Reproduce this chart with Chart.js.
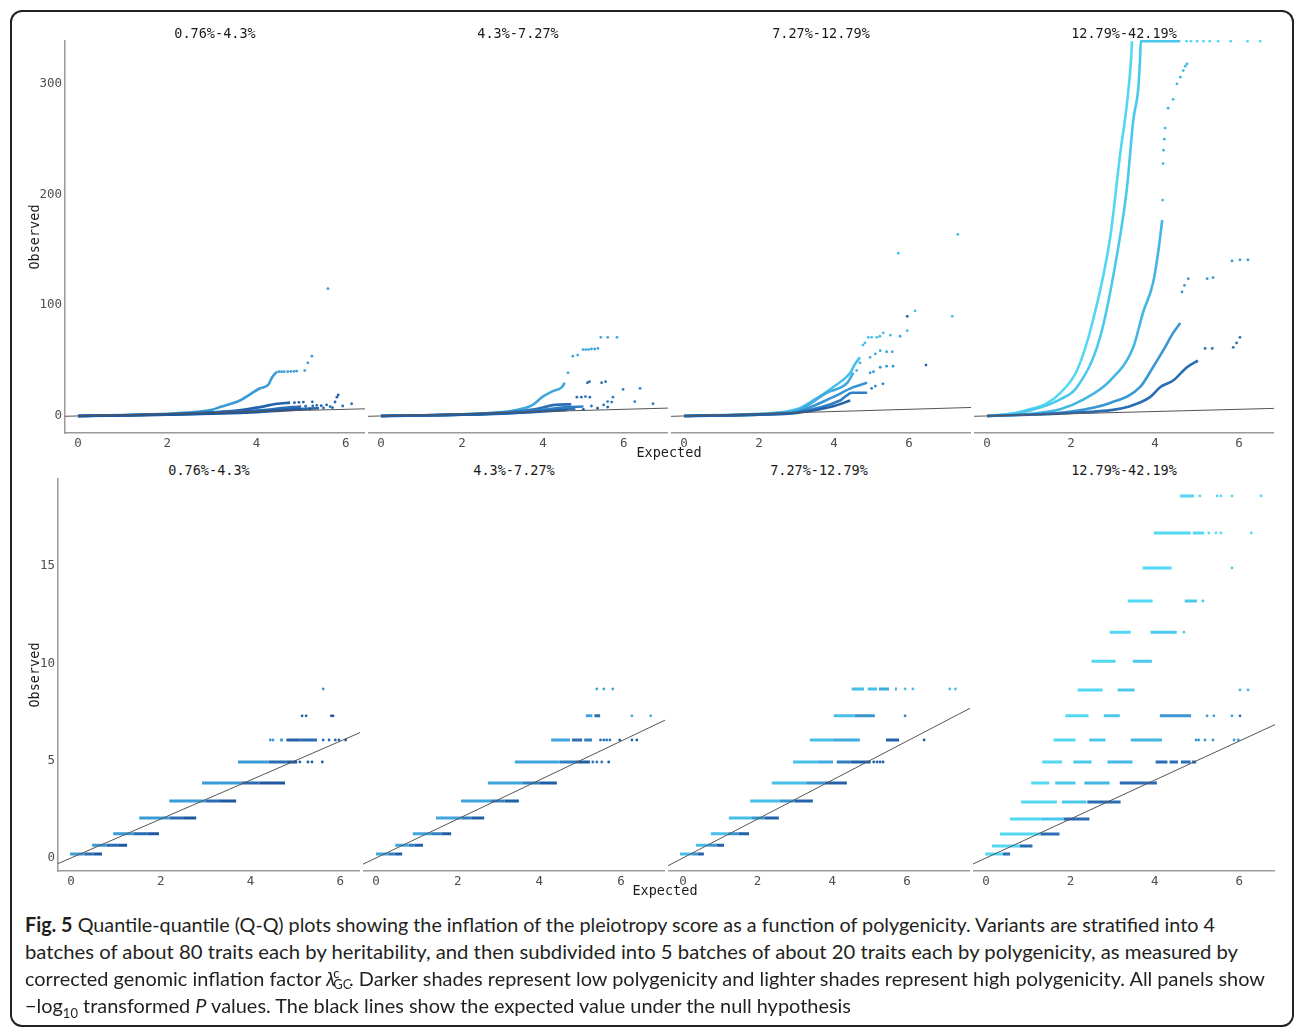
<!DOCTYPE html>
<html>
<head>
<meta charset="utf-8">
<script src="https://cdn.jsdelivr.net/npm/chart.js@4.4.0/dist/chart.umd.min.js"></script>
<style>
  body { margin: 0; background: #fff; width: 1296px; height: 1029px; position: relative; overflow: hidden; }
  #frame { position: absolute; left: 10px; top: 10px; width: 1280px; height: 1013px; border: 2px solid #222; border-radius: 12px; }
  canvas { position: absolute; }
  .lbl { position: absolute; font-family: "DejaVu Sans Mono", monospace; font-size: 13.5px; color: #1a1a1a; white-space: nowrap; transform: translate(-50%, -50%); }
  .rot { transform: translate(-50%, -50%) rotate(-90deg); }
  .cap { position: absolute; left: 25px; font-family: Lato, "Open Sans", sans-serif; font-size: 20px; color: #231f20; white-space: nowrap; transform-origin: 0 50%; line-height: 24px; }
  .cap b { font-weight: 700; }
  .lam { position: relative; display: inline-block; width: 1.15em; }
  .lam .c { position: absolute; left: 0.55em; top: -0.35em; font-size: 0.65em; }
  .lam .gc { position: absolute; left: 0.55em; top: 0.45em; font-size: 0.65em; }
</style>
</head>
<body>
<div id="frame"></div>

<canvas id="t1"></canvas><canvas id="t2"></canvas><canvas id="t3"></canvas><canvas id="t4"></canvas>
<canvas id="b1"></canvas><canvas id="b2"></canvas><canvas id="b3"></canvas><canvas id="b4"></canvas>

<div class="lbl" style="left:215px;top:33px">0.76%-4.3%</div>
<div class="lbl" style="left:518px;top:33px">4.3%-7.27%</div>
<div class="lbl" style="left:821px;top:33px">7.27%-12.79%</div>
<div class="lbl" style="left:1124px;top:33px">12.79%-42.19%</div>
<div class="lbl" style="left:209px;top:470px">0.76%-4.3%</div>
<div class="lbl" style="left:514px;top:470px">4.3%-7.27%</div>
<div class="lbl" style="left:819px;top:470px">7.27%-12.79%</div>
<div class="lbl" style="left:1124px;top:470px">12.79%-42.19%</div>
<div class="lbl" style="left:669px;top:452px">Expected</div>
<div class="lbl" style="left:665px;top:890px">Expected</div>
<div class="lbl rot" style="left:34px;top:237px">Observed</div>
<div class="lbl rot" style="left:34px;top:675px">Observed</div>

<div class="cap" id="c1" style="top:912px"><b>Fig. 5</b> Quantile-quantile (Q-Q) plots showing the inflation of the pleiotropy score as a function of polygenicity. Variants are stratified into 4</div>
<div class="cap" id="c2" style="top:939px">batches of about 80 traits each by heritability, and then subdivided into 5 batches of about 20 traits each by polygenicity, as measured by</div>
<div class="cap" id="c3" style="top:966px">corrected genomic inflation factor <span class="lam"><i>λ</i><span class="c">c</span><span class="gc">GC</span></span>. Darker shades represent low polygenicity and lighter shades represent high polygenicity. All panels show</div>
<div class="cap" id="c4" style="top:993px">−log<sub style="font-size:0.65em">10</sub> transformed <i>P</i> values. The black lines show the expected value under the null hypothesis</div>

<script>
// axis ranges and ticks
const xTicks = [0, 2, 4, 6];
const topYTicks = [0, 100, 200, 300];
const botYTicks = [0, 5, 10, 15];
const topYRange = [-15.4, 339.6];
const botYRange = [-0.67, 19.52];
const topXRanges = [[-0.29, 6.43], [-0.32, 7.09], [-0.35, 7.65], [-0.31, 6.83]];
const botXRanges = [[-0.29, 6.44], [-0.32, 7.08], [-0.40, 7.69], [-0.31, 6.85]];

// shades per panel, series 1 (low polygenicity) .. 5 (high polygenicity)
const shades1 = ['#1f58a0', '#2767ae', '#2a6cb4', '#2362aa', '#3a9bd7'];
const shades2 = ['#2060a8', '#2a74ba', '#2f7fc3', '#2c6fb5', '#3ea6dd'];
const shades3 = ['#2362aa', '#2e7ec1', '#3796d2', '#3fabdf', '#47bfe9'];
const shades4 = ['#2a6db4', '#3a97d3', '#43b6e4', '#4bc9ec', '#52d8f2'];

// top row: [series, expected, observed] -- dense part drawn as a line
const topCurves1 = [
  [5,0,0],[5,1,0.8],[5,2,2],[5,2.6,3.5],[5,3,5.5],[5,3.18,8],[5,3.63,14],[5,4.08,25],[5,4.26,28],[5,4.35,35],[5,4.41,38],[5,4.46,40],
  [4,0,0],[4,2,1.5],[4,3,3.2],[4,3.6,5],[4,4.08,8],[4,4.45,11],[4,4.75,12],
  [3,0,0],[3,2,1.3],[3,3,2.6],[3,4,4.8],[3,4.82,8],[3,5.0,8.5],
  [2,0,0],[2,2,1.2],[2,3,2.3],[2,4,4],[2,4.82,6],[2,5.4,7],
  [1,0,0],[1,2,1.1],[1,3,2.1],[1,4,3.5],[1,4.6,5],[1,5.0,5.8]
];
const topDots1 = [
  [5,4.5,40],[5,4.56,40],[5,4.62,40],[5,4.7,40],[5,4.77,40.3],[5,4.84,40.3],[5,4.9,40.5],[5,5.08,41],[5,5.15,48],[5,5.24,54],[5,5.6,115],
  [4,4.85,12],[4,4.95,12.3],[4,5.05,12.5],[4,5.25,12.8],[4,5.76,12.6],[4,5.8,17],[4,5.83,19],
  [3,5.1,8.8],[3,5.26,9],[3,5.35,9.5],[3,5.45,9.2],[3,5.57,10],[3,5.65,8.5],[3,5.93,9],[3,6.13,11],
  [2,5.5,7.2],[2,5.7,7.5],
  [1,5.2,6.3]
];
const topCurves2 = [
  [5,0,0],[5,1,0.7],[5,2,1.6],[5,3,3.5],[5,3.43,6],[5,3.75,10],[5,3.98,17],[5,4.22,22],[5,4.47,26],[5,4.54,30],
  [4,0,0],[4,2,1.3],[4,3,3],[4,3.8,6],[4,4.3,10],[4,4.7,10.5],
  [3,0,0],[3,2,1.2],[3,3,2.6],[3,4,5.5],[3,4.6,8],[3,5.0,8.5],
  [2,0,0],[2,2,1.1],[2,3,2.3],[2,4,4.5],[2,4.8,6.5],
  [1,0,0],[1,2,1.05],[1,3,2.1],[1,4,4],[1,4.6,5.5]
];
const topDots2 = [
  [5,4.62,39],[5,4.74,54],[5,4.86,55],[5,4.99,60],[5,5.06,60],[5,5.13,60],[5,5.2,60.5],[5,5.28,60.5],[5,5.36,61],[5,5.43,71],[5,5.6,71],[5,5.83,71],
  [4,4.84,17],[4,4.95,17],[4,5.05,17.5],[4,5.16,17],[4,5.1,30],[4,5.15,31],[4,5.45,30],[4,5.55,31],
  [3,5.6,13],[3,5.73,17],[3,5.98,24],[3,6.4,25],[3,6.27,13],[3,6.72,11],
  [2,5.2,9],[2,5.5,10],[2,5.7,12.5],
  [1,5.0,6],[1,5.35,7],[1,5.6,8]
];
const topCurves3 = [
  [5,0,0],[5,1,0.8],[5,2,2],[5,3,6],[5,3.44,14],[5,3.97,26],[5,4.43,39],[5,4.56,47],[5,4.69,53],
  [4,0,0],[4,2,1.6],[4,3,4.5],[4,3.81,21],[4,4.35,30],[4,4.51,39],
  [3,0,0],[3,2,1.4],[3,3,3.8],[3,3.97,17],[3,4.51,26],[3,4.88,30],
  [2,0,0],[2,2,1.3],[2,3,3.2],[2,4.16,14],[2,4.48,21],[2,4.88,21],
  [1,0,0],[1,2,1.2],[1,3,2.8],[1,4,9],[1,4.43,14]
];
const topDots3 = [
  [5,4.77,64],[5,4.82,66],[5,4.91,71],[5,5.0,71],[5,5.14,71],[5,5.22,72],[5,5.31,75],[5,5.5,73],[5,5.95,77],[5,6.16,95],[5,7.15,90],[5,7.3,164],[5,5.71,147],
  [4,4.6,41],[4,4.69,48],[4,4.96,53],[4,5.1,56],[4,5.23,59],[4,5.4,58],[4,5.55,58],[4,5.76,72],
  [3,4.96,39],[3,5.05,40],[3,5.23,44],[3,5.4,45],[3,5.57,45],
  [2,5.0,25],[2,5.1,27],[2,5.3,29],
  [1,5.95,90],[1,6.45,46]
];
const topCurves4 = [
  [5,0,0],[5,0.5,1.5],[5,0.95,5.4],[5,1.4,11],[5,1.74,20.7],[5,2.14,41],[5,2.52,86],[5,2.93,161],[5,3.17,237],[5,3.33,282],[5,3.43,323],[5,3.45,338.5],
  [4,0,0],[4,0.8,3],[4,1.3,8],[4,1.74,15],[4,2.14,26],[4,2.69,71],[4,3.1,147],[4,3.33,206],[4,3.48,267],[4,3.6,296],[4,3.64,321],[4,3.66,338.5],[4,4.6,338.5],
  [3,0,0],[3,1,1.8],[3,1.74,6],[3,2.3,15],[3,2.93,32],[3,3.48,62],[3,3.71,93],[3,3.95,120],[3,4.07,147],[3,4.17,177],
  [2,0,0],[2,1,1.3],[2,2,4],[2,2.93,11.7],[2,3.64,26],[2,3.95,44],[2,4.19,59],[2,4.43,75],[2,4.6,84],
  [1,0,0],[1,1,1.1],[1,2,2.8],[1,3.0,5.5],[1,3.33,8],[1,3.88,17],[1,4.12,26],[1,4.43,32],[1,4.76,44],[1,5.02,50]
];
const topDots4 = [
  [5,4.75,338.5],[5,4.85,338.5],[5,5.0,338.5],[5,5.15,338.5],[5,5.3,338.5],[5,5.5,338.5],[5,5.8,338.5],[5,6.2,338.5],[5,6.5,338.5],
  [3,4.18,195],[3,4.19,228],[3,4.2,240],[3,4.22,250],[3,4.24,260],[3,4.31,278],[3,4.43,286],[3,4.52,300],[3,4.6,306],[3,4.67,312],[3,4.72,316],[3,4.76,318],
  [2,4.64,112],[2,4.7,118],[2,4.79,124],[2,5.24,124],[2,5.38,125],[2,5.83,140],[2,6.02,141],[2,6.21,141],
  [1,5.19,61],[1,5.36,61],[1,5.86,62],[1,5.94,66],[1,6.02,71]
];

// bottom row: [series, observed level, expected from, expected to] or [series, level, expected] for single points
const botRows1 = [
  [5,0.2,-0.02,0.3],[3,0.2,0.3,0.5],[1,0.2,0.5,0.69],
  [5,0.65,0.47,0.8],[3,0.65,0.8,1.05],[1,0.65,1.05,1.25],
  [5,1.25,0.94,1.4],[3,1.25,1.4,1.7],[1,1.25,1.7,1.96],
  [5,2.05,1.52,2.2],[3,2.05,2.2,2.5],[1,2.05,2.5,2.79],
  [5,2.93,2.19,3.0],[3,2.93,3.0,3.3],[1,2.93,3.3,3.68],
  [5,3.85,2.92,3.8],[3,3.85,3.8,4.2],[1,3.85,4.2,4.77],
  [5,4.93,3.72,4.4],[3,4.93,4.4,4.8],[1,4.93,4.8,5.04],
  [2,4.93,5.1],[1,4.93,5.28],[1,4.93,5.37],[1,4.93,5.6],
  [5,6.06,4.44],[5,6.06,4.5],[5,6.06,4.66,4.72],[4,6.06,4.8,5.1],[3,6.06,5.1,5.48],
  [3,6.06,5.62],[2,6.06,5.75],[2,6.06,5.89],[2,6.06,5.97],[1,6.06,6.12],
  [4,7.3,5.15],[4,7.3,5.24],[1,7.3,5.8],[1,7.3,5.84],
  [5,8.68,5.62]
];
const botRows2 = [
  [5,0.2,0,0.3],[3,0.2,0.3,0.45],[1,0.2,0.45,0.64],
  [5,0.65,0.47,0.8],[3,0.65,0.8,0.95],[1,0.65,0.95,1.15],
  [5,1.25,0.9,1.35],[3,1.25,1.35,1.6],[1,1.25,1.6,1.84],
  [5,2.05,1.47,2.1],[3,2.05,2.1,2.35],[1,2.05,2.35,2.65],
  [5,2.93,2.08,2.8],[3,2.93,2.8,3.15],[1,2.93,3.15,3.5],
  [5,3.85,2.74,3.6],[3,3.85,3.6,4.0],[1,3.85,4.0,4.43],
  [5,4.93,3.4,4.5],[3,4.93,4.5,4.9],[1,4.93,4.9,5.24],
  [2,4.93,5.31],[2,4.93,5.41],[2,4.93,5.53],[1,4.93,5.7],
  [5,6.06,4.29,4.75],[4,6.06,4.8,5.05],[3,6.06,5.1,5.29],
  [2,6.06,5.5],[2,6.06,5.58],[2,6.06,5.65],[2,6.06,5.73],[1,6.06,5.97],[1,6.06,6.27],[1,6.06,6.39],
  [5,7.3,5.14,5.3],[4,7.3,5.35,5.49],[5,7.3,6.27],[5,7.3,6.73],
  [5,8.68,5.41],[5,8.68,5.58],[5,8.68,5.8]
];
const botRows3 = [
  [5,0.2,-0.08,0.25],[3,0.2,0.25,0.4],[1,0.2,0.4,0.56],
  [5,0.65,0.35,0.7],[3,0.65,0.7,0.9],[1,0.65,0.9,1.1],
  [5,1.25,0.75,1.2],[3,1.25,1.2,1.5],[1,1.25,1.5,1.77],
  [5,2.05,1.23,1.85],[3,2.05,1.85,2.2],[1,2.05,2.2,2.57],
  [5,2.93,1.8,2.6],[3,2.93,2.6,3.0],[1,2.93,3.0,3.48],
  [5,3.85,2.38,3.3],[3,3.85,3.3,3.8],[1,3.85,3.8,4.39],
  [5,4.93,2.95,3.6],[4,4.93,3.6,4.02],[2,4.93,4.12,4.5],[1,4.93,4.5,5.03],
  [1,4.93,5.11],[1,4.93,5.2],[1,4.93,5.28],[1,4.93,5.36],
  [5,6.06,3.4,4.0],[4,6.06,4.0,4.74],[1,6.06,5.44,5.79],[1,6.06,6.46],
  [5,7.3,4.04,4.6],[3,7.3,4.6,5.14],[2,7.3,5.95],
  [5,8.68,4.52,4.85],[5,8.68,4.95,5.2],[4,8.68,5.25,5.52],[4,8.68,5.68,5.73],
  [5,8.68,5.95],[5,8.68,6.16],[5,8.68,7.15],[5,8.68,7.3]
];
const botRows4 = [
  [5,0.2,-0.02,0.4],[1,0.2,0.4,0.57],
  [5,0.62,0.14,0.8],[1,0.62,0.8,1.1],
  [5,1.23,0.33,1.29],[1,1.23,1.29,1.74],
  [5,2.0,0.57,1.29],[4,2.0,1.29,1.84],[1,2.0,1.84,2.45],
  [5,2.88,0.83,1.68],[4,2.88,1.8,2.38],[1,2.88,2.4,3.19],
  [5,3.85,1.07,1.5],[4,3.85,1.64,2.12],[3,3.85,2.33,2.93],[1,3.85,3.17,4.05],
  [5,4.93,1.33,1.8],[4,4.93,2.07,2.5],[3,4.93,2.88,3.47],[1,4.93,4.02,4.3],[1,4.93,4.35,4.55],[1,4.93,4.62,4.85],[1,4.93,4.88,4.98],
  [5,6.06,1.6,2.12],[4,6.06,2.45,2.83],[3,6.06,3.43,4.17],[2,6.06,4.98],[2,6.06,5.04],[2,6.06,5.19],[2,6.06,5.38],[2,6.06,5.88],[2,6.06,5.98],
  [5,7.3,1.88,2.43],[4,7.3,2.79,3.17],[2,7.3,4.12,4.86],[2,7.3,5.24],[2,7.3,5.4],[2,7.3,5.83],[1,7.3,6.02],
  [5,8.63,2.17,2.76],[4,8.63,3.12,3.52],[3,8.63,6.02],[3,8.63,6.21],
  [5,10.1,2.5,3.07],[4,10.1,3.48,3.93],
  [5,11.6,2.93,3.43],[4,11.6,3.9,4.52],[4,11.6,4.69],
  [5,13.2,3.36,3.95],[4,13.2,4.71,5.0],[4,13.2,5.14],
  [5,14.9,3.71,4.4],[4,14.9,5.83],
  [5,16.7,3.98,4.85],[5,16.7,4.9,5.17],[5,16.7,5.28],[5,16.7,5.45],[5,16.7,5.57],[5,16.7,6.29],
  [5,18.6,4.6,4.93],[5,18.6,5.07],[5,18.6,5.48],[5,18.6,5.57],[5,18.6,5.83],[5,18.6,6.52]
];

const axisGrey = '#9a9a9a';
const tickFont = { family: 'DejaVu Sans Mono', size: 12.5 };
const Y_AXIS_W = 45;
const X_AXIS_H = 20;

function nullLine(xr) {
  return {
    data: [{ x: xr[0], y: xr[0] }, { x: xr[1], y: xr[1] }],
    showLine: true, borderColor: '#555', borderWidth: 1, pointRadius: 0
  };
}

function topDatasets(curves, dots, shades, xr) {
  const ds = [nullLine(xr)];
  for (let s = 1; s <= 5; s++) {
    ds.push({
      data: curves.filter(r => r[0] === s).map(r => ({ x: r[1], y: r[2] })),
      showLine: true, borderColor: shades[s - 1], borderWidth: 2.6, pointRadius: 0,
      cubicInterpolationMode: 'monotone'
    });
    ds.push({
      data: dots.filter(r => r[0] === s).map(r => ({ x: r[1], y: r[2] })),
      showLine: false, backgroundColor: shades[s - 1], borderWidth: 0, pointRadius: 1.4
    });
  }
  return ds;
}

function botDatasets(rows, shades, xr) {
  const ds = [nullLine(xr)];
  for (let s = 1; s <= 5; s++) {
    const seg = [], pts = [];
    rows.filter(r => r[0] === s).forEach(r => {
      if (r.length === 4) {
        seg.push({ x: r[2], y: r[1] }, { x: r[3], y: r[1] }, { x: r[3], y: null });
      } else {
        pts.push({ x: r[2], y: r[1] });
      }
    });
    ds.push({ data: seg, showLine: true, spanGaps: false, borderColor: shades[s - 1], borderWidth: 3, pointRadius: 0 });
    ds.push({ data: pts, showLine: false, backgroundColor: shades[s - 1], borderWidth: 0, pointRadius: 1.4 });
  }
  return ds;
}

// no label overflow padding, so the plot area sits exactly where the panel is
function noPad(sc) {
  sc.paddingTop = 0; sc.paddingBottom = 0; sc.paddingLeft = 0; sc.paddingRight = 0;
}

function makePanel(id, left, top, w, h, showY, xr, yr, yTicks, datasets) {
  const cv = document.getElementById(id);
  const extra = showY ? Y_AXIS_W : 0;
  cv.width = w + extra;
  cv.height = h + X_AXIS_H;
  cv.style.left = (left - extra) + 'px';
  cv.style.top = top + 'px';
  new Chart(cv, {
    type: 'scatter',
    data: { datasets: datasets },
    options: {
      responsive: false,
      animation: false,
      devicePixelRatio: 1,
      layout: { padding: 0, autoPadding: false },
      plugins: { legend: { display: false }, tooltip: { enabled: false } },
      scales: {
        x: {
          type: 'linear', min: xr[0], max: xr[1],
          grid: { display: false, drawTicks: false },
          border: { display: true, color: axisGrey, width: 1.5 },
          ticks: { font: tickFont, color: '#4d4d4d', padding: 3, maxRotation: 0 },
          afterBuildTicks: sc => { sc.ticks = xTicks.map(v => ({ value: v })); },
          afterFit: sc => { sc.height = X_AXIS_H; noPad(sc); }
        },
        y: {
          type: 'linear', min: yr[0], max: yr[1], display: showY,
          grid: { display: false, drawTicks: false },
          border: { display: true, color: axisGrey, width: 1.5 },
          ticks: { font: tickFont, color: '#4d4d4d', padding: 3 },
          afterBuildTicks: sc => { sc.ticks = yTicks.map(v => ({ value: v })); },
          afterFit: sc => { sc.width = showY ? Y_AXIS_W : 0; noPad(sc); }
        }
      }
    }
  });
}

const topLefts = [65, 368, 671, 974];
const botLefts = [58, 363, 668, 973];
const topSets = [
  topDatasets(topCurves1, topDots1, shades1, topXRanges[0]),
  topDatasets(topCurves2, topDots2, shades2, topXRanges[1]),
  topDatasets(topCurves3, topDots3, shades3, topXRanges[2]),
  topDatasets(topCurves4, topDots4, shades4, topXRanges[3])
];
const botSets = [
  botDatasets(botRows1, shades1, botXRanges[0]),
  botDatasets(botRows2, shades2, botXRanges[1]),
  botDatasets(botRows3, shades3, botXRanges[2]),
  botDatasets(botRows4, shades4, botXRanges[3])
];
for (let i = 0; i < 4; i++) {
  makePanel('t' + (i + 1), topLefts[i], 40, 300, 393, i === 0, topXRanges[i], topYRange, topYTicks, topSets[i]);
  makePanel('b' + (i + 1), botLefts[i], 478, 302, 393, i === 0, botXRanges[i], botYRange, botYTicks, botSets[i]);
}

// fit caption lines to the original line widths
const capEnds = { c1: 1215, c2: 1238, c3: 1265, c4: 851 };
Object.keys(capEnds).forEach(id => {
  const el = document.getElementById(id);
  const w = el.getBoundingClientRect().width;
  el.style.transform = 'scaleX(' + ((capEnds[id] - 25) / w) + ')';
});
</script>
</body>
</html>
